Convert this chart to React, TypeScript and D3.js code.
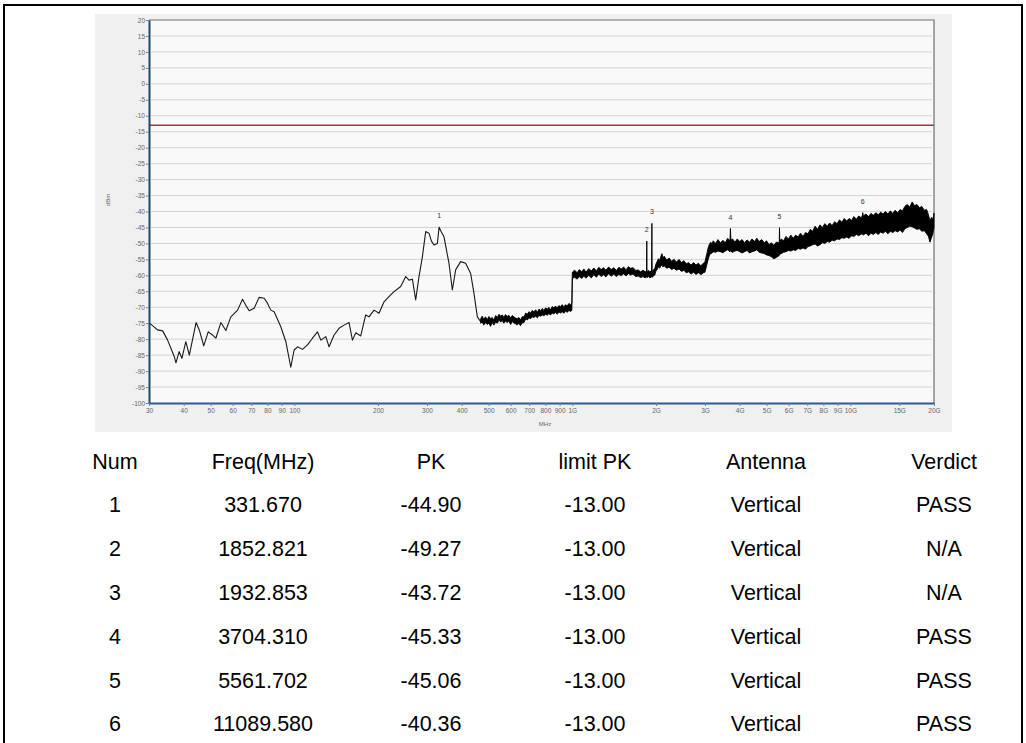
import React, { useEffect, useRef } from "react";
import * as d3 from "d3";

// trace below ~470 MHz (MHz, dBm)
const lineFreq = [30, 32.2, 33.6, 35.0, 37.0, 37.5, 38.5, 39.4, 40.7, 41.9, 44.3, 45.5, 47.2, 49.0, 50.6, 52.2, 54.4, 56.7, 59.1, 62.5, 65.1, 66.9, 68.8, 71.7, 74.7, 77.9, 80.1, 82.3, 84.6, 89.4, 93.2, 97.1, 99.8, 102.7, 107.0, 111.5, 116.2, 121.1, 124.5, 129.8, 133.3, 139.0, 144.8, 151.0, 157.3, 161.8, 166.3, 173.3, 180.6, 185.6, 193.5, 201.6, 210.2, 219.0, 228.3, 241.3, 251.5, 258.5, 265.9, 273.2, 280.8, 288.8, 296.8, 305.0, 311.0, 317.9, 326.9, 331.67, 338.0, 345.3, 359.9, 370.1, 380.4, 396.4, 413.2, 430.7, 442.6, 455.3, 467.9];
const lineLevel = [-74.8, -77.1, -77.4, -80.3, -85.5, -87.4, -83.9, -86.0, -80.8, -85.0, -74.8, -77.1, -82.1, -77.7, -78.6, -79.7, -74.8, -77.3, -73.0, -70.9, -67.5, -69.4, -71.1, -70.3, -66.9, -67.2, -68.8, -70.9, -71.4, -76.1, -80.8, -88.8, -83.4, -82.4, -83.2, -81.8, -79.7, -77.7, -80.3, -79.2, -82.4, -78.7, -76.6, -75.6, -74.8, -80.3, -78.0, -79.0, -72.4, -73.0, -70.9, -71.9, -68.3, -66.7, -65.1, -63.5, -60.4, -61.5, -61.2, -67.7, -60.4, -54.2, -46.3, -46.8, -49.2, -50.5, -50.0, -44.9, -46.4, -47.9, -56.2, -64.6, -58.3, -55.7, -56.2, -59.4, -65.6, -73.0, -74.5];

// noisy part of the trace: upper and lower edge of the band (MHz, dBm)
const bandFreq = [
    468, 474, 480, 487, 494, 501, 508, 515, 522, 530,
    537, 545, 552, 560, 567, 575, 583, 591, 600, 608,
    616, 625, 633, 642, 651, 660, 670, 680, 689, 698,
    708, 717, 727, 738, 748, 758, 769, 780, 790, 801,
    812, 823, 835, 846, 858, 870, 882, 894, 907, 920,
    932, 945, 959, 972, 985, 996, 1000,
    1020, 1040, 1060, 1080, 1100, 1120, 1145, 1170, 1195, 1220,
    1245, 1270, 1295, 1320, 1350, 1380, 1410, 1440, 1470, 1500,
    1530, 1560, 1590, 1620, 1655, 1690, 1725, 1760, 1795, 1830,
    1848, 1852.821, 1857, 1880, 1900, 1928, 1932.853, 1937, 1960, 1980,
    2000, 2020, 2040, 2060, 2080, 2100, 2120, 2140, 2185, 2230,
    2275, 2320, 2370, 2420, 2470, 2520, 2570, 2620, 2675, 2730,
    2785, 2840, 2900, 2960, 3000,
    3040, 3080, 3115, 3150, 3180, 3210, 3275, 3340, 3410, 3480,
    3550, 3620, 3690, 3704.31, 3720, 3770, 3845, 3920, 4000, 4080,
    4165, 4250, 4340, 4430, 4520, 4610, 4700, 4800, 4900, 5000,
    5100, 5200, 5310, 5420, 5550, 5561.702, 5575, 5640, 5750, 5870,
    5990, 6110, 6235, 6360, 6490, 6620, 6760, 6900, 7040, 7180,
    7320, 7470, 7620, 7780, 7940, 8100, 8265, 8430, 8600, 8780,
    8960, 9140, 9325, 9510, 9700, 9900, 10100, 10300, 10510, 10730,
    10950, 11050, 11089.58, 11130, 11380, 11630, 11860, 12100, 12350, 12600,
    12860, 13120, 13380, 13650, 13930, 14210, 14500, 14800, 15100, 15400,
    15710, 16030, 16360, 16690, 17030, 17370, 17720, 18080, 18450, 18820,
    19100, 19340, 19590, 19800, 20000,
];
const bandHi = [
    -73.6, -72.8, -73.8, -73.0, -73.9, -72.9, -73.6, -73.2, -74.0, -72.6,
    -73.2, -72.2, -72.8, -72.4, -73.2, -72.3, -72.9, -72.5, -73.4, -72.6,
    -73.0, -73.4, -73.6, -73.2, -74.0, -73.0, -73.0, -71.8, -72.2, -71.4,
    -71.8, -71.0, -71.4, -70.8, -71.6, -70.6, -71.0, -70.4, -71.0, -70.2,
    -70.6, -70.0, -70.8, -69.8, -70.2, -69.6, -70.3, -69.5, -69.8, -69.2,
    -70.0, -69.2, -69.6, -68.8, -69.2, -68.8, -59.0,
    -58.4, -59.2, -58.2, -58.9, -58.0, -59.0, -57.9, -58.6, -57.7, -58.6,
    -57.5, -58.2, -57.6, -58.4, -57.4, -58.2, -57.6, -58.5, -57.5, -58.0,
    -57.4, -58.3, -57.3, -57.8, -57.6, -58.5, -58.3, -58.9, -58.4, -58.9,
    -58.6, -49.27, -58.9, -58.4, -58.9, -58.5, -43.72, -58.7, -58.3, -57.8,
    -56.4, -55.6, -54.8, -55.4, -54.2, -53.2, -54.6, -54.0, -55.2, -54.6,
    -55.6, -55.0, -55.8, -55.0, -56.0, -55.4, -56.4, -56.0, -56.8, -56.0,
    -56.8, -56.2, -57.0, -56.2, -55.8,
    -53.6, -51.4, -50.2, -49.6, -50.4, -49.2, -50.0, -48.8, -49.8, -49.0,
    -49.8, -48.4, -49.2, -45.33, -49.0, -48.6, -49.6, -48.6, -49.4, -48.8,
    -49.8, -48.9, -49.6, -48.6, -49.4, -48.4, -49.4, -48.8, -49.8, -49.2,
    -50.4, -49.8, -50.6, -49.6, -49.8, -45.06, -49.6, -48.6, -49.2, -47.8,
    -48.6, -47.4, -48.4, -47.4, -48.0, -46.8, -47.8, -46.6, -47.0, -45.6,
    -46.2, -44.6, -45.6, -44.2, -45.0, -43.8, -44.6, -43.6, -44.4, -43.2,
    -43.8, -42.6, -43.4, -42.2, -43.0, -42.2, -42.8, -41.6, -42.4, -41.4,
    -42.0, -41.2, -40.36, -41.4, -40.8, -41.6, -40.6, -41.2, -40.4, -41.0,
    -40.2, -40.8, -40.0, -40.8, -39.8, -40.6, -39.6, -40.4, -39.4, -39.8,
    -38.4, -37.8, -38.6, -37.0, -38.2, -37.8, -38.8, -38.4, -39.6, -39.4,
    -41.0, -43.0, -41.8, -42.6, -40.5,
];
const bandLo = [
    -75.0, -74.6, -75.6, -74.8, -75.4, -75.0, -76.0, -74.8, -75.6, -74.6,
    -75.0, -74.0, -74.6, -74.2, -75.0, -74.3, -74.8, -74.3, -75.4, -74.5,
    -74.9, -75.2, -75.6, -75.0, -75.8, -74.9, -74.8, -73.6, -74.0, -73.3,
    -73.6, -73.0, -73.2, -72.8, -73.3, -72.6, -72.8, -72.4, -72.7, -72.2,
    -72.5, -72.0, -72.4, -71.8, -72.1, -71.6, -72.2, -71.5, -71.8, -71.4,
    -71.9, -71.2, -71.6, -71.0, -71.3, -71.0, -61.0,
    -60.6, -61.2, -60.4, -61.0, -60.2, -60.9, -60.0, -60.8, -59.8, -60.6,
    -59.6, -60.4, -59.8, -60.5, -59.5, -60.3, -59.6, -60.4, -59.7, -60.1,
    -59.5, -60.2, -59.4, -59.9, -59.6, -60.4, -60.2, -60.7, -60.4, -60.8,
    -60.5, -60.6, -60.7, -60.4, -60.8, -60.5, -60.4, -60.6, -60.2, -59.9,
    -58.6, -58.2, -57.2, -57.8, -57.0, -56.8, -57.4, -57.0, -57.8, -57.4,
    -58.2, -57.8, -58.4, -58.0, -58.8, -58.4, -59.2, -58.9, -59.6, -59.0,
    -59.7, -59.2, -59.8, -59.2, -59.0,
    -57.0, -55.0, -53.6, -53.2, -53.0, -52.6, -52.8, -52.4, -52.6, -52.9,
    -52.4, -52.0, -52.6, -52.2, -52.5, -52.8, -52.4, -52.2, -52.6, -53.0,
    -52.6, -52.2, -53.0, -52.6, -52.4, -52.0, -52.8, -53.0, -53.2, -53.6,
    -53.8, -54.2, -54.8, -54.4, -53.8, -53.6, -53.4, -53.2, -52.8, -52.6,
    -52.2, -52.4, -52.0, -52.2, -51.6, -51.8, -51.4, -51.8, -51.0, -50.8,
    -50.4, -50.2, -50.8, -50.4, -49.8, -50.0, -49.4, -49.6, -49.0, -49.2,
    -48.6, -48.8, -48.2, -48.4, -48.0, -48.4, -47.6, -47.8, -47.2, -47.6,
    -47.0, -47.2, -47.0, -47.4, -46.8, -47.6, -46.8, -47.2, -46.6, -47.2,
    -46.4, -46.8, -46.2, -47.0, -46.2, -46.6, -46.0, -46.4, -45.8, -46.6,
    -45.4, -45.0, -44.6, -44.8, -45.2, -45.6, -45.4, -46.2, -46.0, -47.0,
    -47.8, -49.6, -48.2, -47.0, -45.0,
];

const limitLevel = -13;

const markerNum = ["1", "2", "3", "4", "5", "6"];
const markerFreq = [331.67, 1852.821, 1932.853, 3704.31, 5561.702, 11089.58];
const markerFreqText = ["331.670", "1852.821", "1932.853", "3704.310", "5561.702", "11089.580"];
const markerPk = [-44.9, -49.27, -43.72, -45.33, -45.06, -40.36];
const markerLimit = [-13, -13, -13, -13, -13, -13];
const markerAntenna = ["Vertical", "Vertical", "Vertical", "Vertical", "Vertical", "Vertical"];
const markerVerdict = ["PASS", "N/A", "N/A", "PASS", "PASS", "PASS"];

const tableHeader = ["Num", "Freq(MHz)", "PK", "limit PK", "Antenna", "Verdict"];

const xTickValues = [30, 40, 50, 60, 70, 80, 90, 100, 200, 300, 400, 500, 600, 700, 800, 900, 1000, 2000, 3000, 4000, 5000, 6000, 7000, 8000, 9000, 10000, 15000, 20000];
const xTickLabels = ["30", "40", "50", "60", "70", "80", "90", "100", "200", "300", "400", "500", "600", "700", "800", "900", "1G", "2G", "3G", "4G", "5G", "6G", "7G", "8G", "9G", "10G", "15G", "20G"];
const yTickValues = [20, 15, 10, 5, 0, -5, -10, -15, -20, -25, -30, -35, -40, -45, -50, -55, -60, -65, -70, -75, -80, -85, -90, -95, -100];

const App = () => {
    const ref = useRef(null);

    useEffect(() => {
        const W = 1026, H = 743;
        const plot = { left: 149, right: 934, top: 20, bottom: 403 };
        const font = "'Liberation Sans', Arial, sans-serif";

        const svg = d3.select(ref.current);
        svg.selectAll("*").remove();

        svg.append("rect").attr("width", W).attr("height", H).attr("fill", "#fff");

        // screenshot of the analyser plot
        svg.append("rect")
            .attr("x", 95).attr("y", 14).attr("width", 857).attr("height", 418)
            .attr("fill", "#f0f0f0");
        svg.append("rect")
            .attr("x", plot.left).attr("y", plot.top)
            .attr("width", plot.right - plot.left).attr("height", plot.bottom - plot.top)
            .attr("fill", "#f9f9f9");

        const x = d3.scaleLog().domain([30, 20000]).range([plot.left, plot.right]);
        const y = d3.scaleLinear().domain([-100, 20]).range([plot.bottom, plot.top]);

        // horizontal grid
        svg.append("g")
            .selectAll("line")
            .data(yTickValues.filter((v) => v < 20 && v > -100))
            .join("line")
            .attr("x1", plot.left + 2).attr("x2", plot.right - 2)
            .attr("y1", (d) => y(d)).attr("y2", (d) => y(d))
            .attr("stroke", "#d3d3d3").attr("stroke-width", 1);

        // frame top / right
        svg.append("path")
            .attr("d", `M${plot.left},${plot.top}H${plot.right}V${plot.bottom}`)
            .attr("fill", "none").attr("stroke", "#6f6f6f").attr("stroke-width", 1.2);

        // limit line
        svg.append("line")
            .attr("x1", plot.left).attr("x2", plot.right)
            .attr("y1", y(limitLevel)).attr("y2", y(limitLevel))
            .attr("stroke", "#9a3a48").attr("stroke-width", 1.5);

        // trace
        const lineData = lineFreq.map((f, i) => [f, lineLevel[i]]);
        svg.append("path")
            .datum(lineData)
            .attr("d", d3.line().x((d) => x(d[0])).y((d) => y(d[1])))
            .attr("fill", "none").attr("stroke", "#1a1a1a").attr("stroke-width", 1.1)
            .attr("stroke-linejoin", "round");

        const n = Math.min(bandFreq.length, bandHi.length, bandLo.length);
        const bandData = bandFreq.slice(0, n).map((f, i) => ({ f, hi: bandHi[i], lo: bandLo[i] }));
        svg.append("path")
            .datum(bandData)
            .attr("d", d3.area().x((d) => x(d.f)).y0((d) => y(d.lo)).y1((d) => y(d.hi)))
            .attr("fill", "#000").attr("stroke", "#000").attr("stroke-width", 0.9)
            .attr("stroke-linejoin", "miter");

        // marker numbers
        svg.append("g")
            .selectAll("text")
            .data(markerNum)
            .join("text")
            .attr("x", (d, i) => x(markerFreq[i]))
            .attr("y", (d, i) => y(markerPk[i]) - 9)
            .attr("text-anchor", "middle")
            .attr("font-family", font).attr("font-size", 7).attr("fill", "#333")
            .text((d) => d);

        // axes
        const yAxis = svg.append("g")
            .attr("transform", `translate(${plot.left},0)`)
            .call(d3.axisLeft(y).tickValues(yTickValues).tickSize(3).tickSizeOuter(0).tickFormat((d) => String(d)));
        yAxis.select(".domain").attr("stroke", "#1d4a6b").attr("stroke-width", 2);
        yAxis.selectAll(".tick line").attr("stroke", "#6a7f90");
        yAxis.selectAll("text").attr("font-family", font).attr("font-size", 6.5).attr("fill", "#666").attr("x", -4);

        const xAxis = svg.append("g")
            .attr("transform", `translate(0,${plot.bottom})`)
            .call(d3.axisBottom(x).tickValues(xTickValues).tickSize(3).tickSizeOuter(0).tickFormat((d, i) => xTickLabels[i]));
        xAxis.select(".domain").attr("stroke", "#2a5b98").attr("stroke-width", 2);
        xAxis.selectAll(".tick line").attr("stroke", "#6a7f90");
        xAxis.selectAll("text").attr("font-family", font).attr("font-size", 6.5).attr("fill", "#666").attr("y", 5);

        svg.append("text")
            .attr("transform", "translate(110,200) rotate(-90)")
            .attr("text-anchor", "middle")
            .attr("font-family", font).attr("font-size", 6).attr("fill", "#666")
            .text("dBm");
        svg.append("text")
            .attr("x", 545).attr("y", 426)
            .attr("text-anchor", "middle")
            .attr("font-family", font).attr("font-size", 6).attr("fill", "#666")
            .text("MHz");

        // table
        const colX = [115, 263, 431, 595, 766, 944];
        const rowY0 = 461, rowStep = 43.8;
        const rows = [tableHeader].concat(markerNum.map((num, i) => [
            num,
            markerFreqText[i],
            markerPk[i].toFixed(2),
            markerLimit[i].toFixed(2),
            markerAntenna[i],
            markerVerdict[i],
        ]));
        const rowG = svg.append("g")
            .selectAll("g")
            .data(rows)
            .join("g")
            .attr("transform", (d, i) => `translate(0,${rowY0 + i * rowStep})`);
        rowG.selectAll("text")
            .data((d) => d)
            .join("text")
            .attr("x", (d, i) => colX[i])
            .attr("dy", "0.35em")
            .attr("text-anchor", "middle")
            .attr("font-family", font).attr("font-size", 21.5).attr("fill", "#000")
            .text((d) => d);

        // outer frame
        svg.append("rect")
            .attr("x", 4).attr("y", 5).attr("width", 1018).attr("height", 760)
            .attr("fill", "none").attr("stroke", "#000").attr("stroke-width", 2);
    }, []);

    return (
        <svg ref={ref} width={1026} height={743} style={{ position: "absolute", left: 0, top: 0, display: "block" }} />
    );
};

export default App;
